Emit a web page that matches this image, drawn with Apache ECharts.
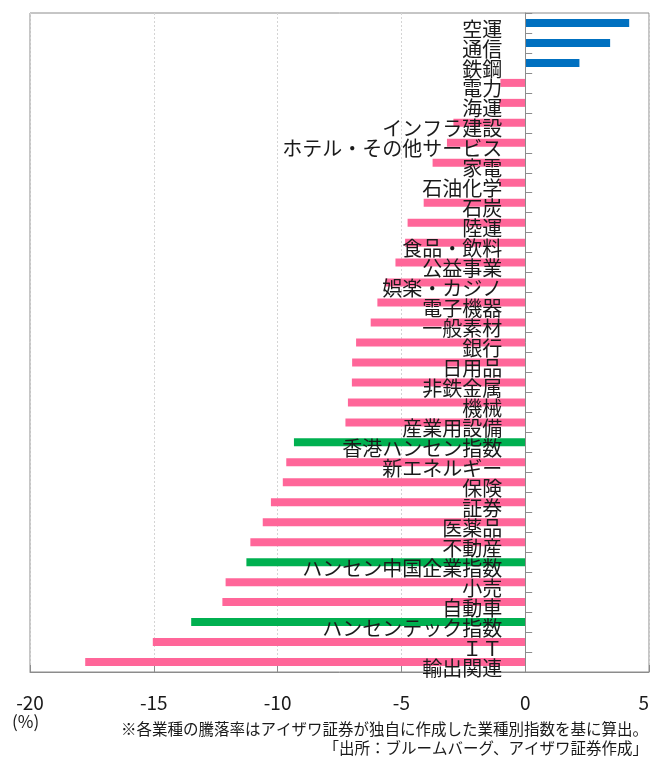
<!DOCTYPE html>
<html>
<head>
<meta charset="utf-8">
<script src="https://cdn.jsdelivr.net/npm/echarts@6/dist/echarts.min.js"></script>
<style>
  html, body { margin: 0; padding: 0; background: #fff; }
  #chart { width: 651px; height: 758px; }
</style>
</head>
<body>
<div id="chart"></div>
<script>
// Sector performance (%), top to bottom
const categories = [
  '空運', '通信', '鉄鋼', '電力', '海運', 'インフラ建設', 'ホテル・その他サービス',
  '家電', '石油化学', '石炭', '陸運', '食品・飲料', '公益事業', '娯楽・カジノ',
  '電子機器', '一般素材', '銀行', '日用品', '非鉄金属', '機械', '産業用設備',
  '香港ハンセン指数', '新エネルギー', '保険', '証券', '医薬品', '不動産',
  'ハンセン中国企業指数', '小売', '自動車', 'ハンセンテック指数', 'ＩＴ', '輸出関連'
];
const values = [
  4.2, 3.43, 2.19, -1.0, -1.05, -2.9, -3.16,
  -3.74, -1.05, -4.1, -4.75, -4.85, -5.24, -5.65,
  -5.97, -6.24, -6.83, -6.99, -7.0, -7.16, -7.26,
  -9.34, -9.65, -9.79, -10.27, -10.6, -11.1,
  -11.26, -12.1, -12.23, -13.49, -15.04, -17.77
];
// Benchmark indices drawn in a separate colour
const indexNames = ['香港ハンセン指数', 'ハンセン中国企業指数', 'ハンセンテック指数'];
const xTicks = { min: -20, max: 5, interval: 5 };

const COLOR_UP = '#0070C0';
const COLOR_DOWN = '#FF6699';
const COLOR_INDEX = '#00B050';
const FONT = '"Noto Sans CJK JP", "Noto Sans", sans-serif';

const GRID = { left: 30, right: 2, top: 13, bottom: 86 };
const WIDTH = 651;

// Category axis sits on the zero line: shift it inward from the grid's left edge
const plotWidth = WIDTH - GRID.left - GRID.right;
const zeroShift = plotWidth * (0 - xTicks.min) / (xTicks.max - xTicks.min);

const barData = values.map((v, i) => ({
  value: v,
  itemStyle: {
    color: indexNames.includes(categories[i]) ? COLOR_INDEX : (v >= 0 ? COLOR_UP : COLOR_DOWN)
  }
}));

const chart = echarts.init(document.getElementById('chart'), null, { renderer: 'canvas' });
chart.setOption({
  animation: false,
  backgroundColor: '#ffffff',
  grid: {
    left: GRID.left, right: GRID.right, top: GRID.top, bottom: GRID.bottom,
    containLabel: false, outerBoundsMode: 'none',
    show: true, borderColor: '#8c8c8c', borderWidth: 1
  },
  xAxis: {
    type: 'value',
    min: xTicks.min, max: xTicks.max, interval: xTicks.interval,
    axisLine: { show: true, onZero: false, lineStyle: { color: '#8c8c8c' } },
    axisTick: { show: true, inside: true, length: 7, lineStyle: { color: '#8c8c8c' } },
    axisLabel: {
      margin: 21, color: '#1a1a1a', fontSize: 19, fontFamily: FONT,
      alignMaxLabel: 'right'
    },
    splitLine: { show: true, lineStyle: { color: '#d4d4d4', type: [2, 2] } }
  },
  yAxis: {
    type: 'category',
    data: categories,
    inverse: true,
    position: 'left',
    offset: -zeroShift,
    axisLine: { show: true, onZero: false, lineStyle: { color: '#8c8c8c' } },
    axisTick: { show: true, inside: true, length: 7, lineStyle: { color: '#8c8c8c' } },
    axisLabel: {
      interval: 0, margin: 23, color: '#1a1a1a', fontSize: 20, fontFamily: FONT,
      verticalAlign: 'top', lineHeight: 12
    },
    splitLine: { show: false },
    z: 5
  },
  series: [{
    type: 'bar',
    data: barData,
    barWidth: 8,
    z: 2
  }],
  graphic: [
    {
      type: 'text', left: 12, top: 713,
      style: { text: '(%)', fontSize: 17, fontFamily: FONT, fill: '#1a1a1a' }
    },
    {
      type: 'text', right: 3, top: 721,
      style: {
        text: '※各業種の騰落率はアイザワ証券が独自に作成した業種別指数を基に算出。',
        fontSize: 15.5, fontFamily: FONT, fill: '#1a1a1a', align: 'right'
      }
    },
    {
      type: 'text', right: 3, top: 740,
      style: {
        text: '「出所：ブルームバーグ、アイザワ証券作成」',
        fontSize: 15.5, fontFamily: FONT, fill: '#1a1a1a', align: 'right'
      }
    }
  ]
});
</script>
</body>
</html>
